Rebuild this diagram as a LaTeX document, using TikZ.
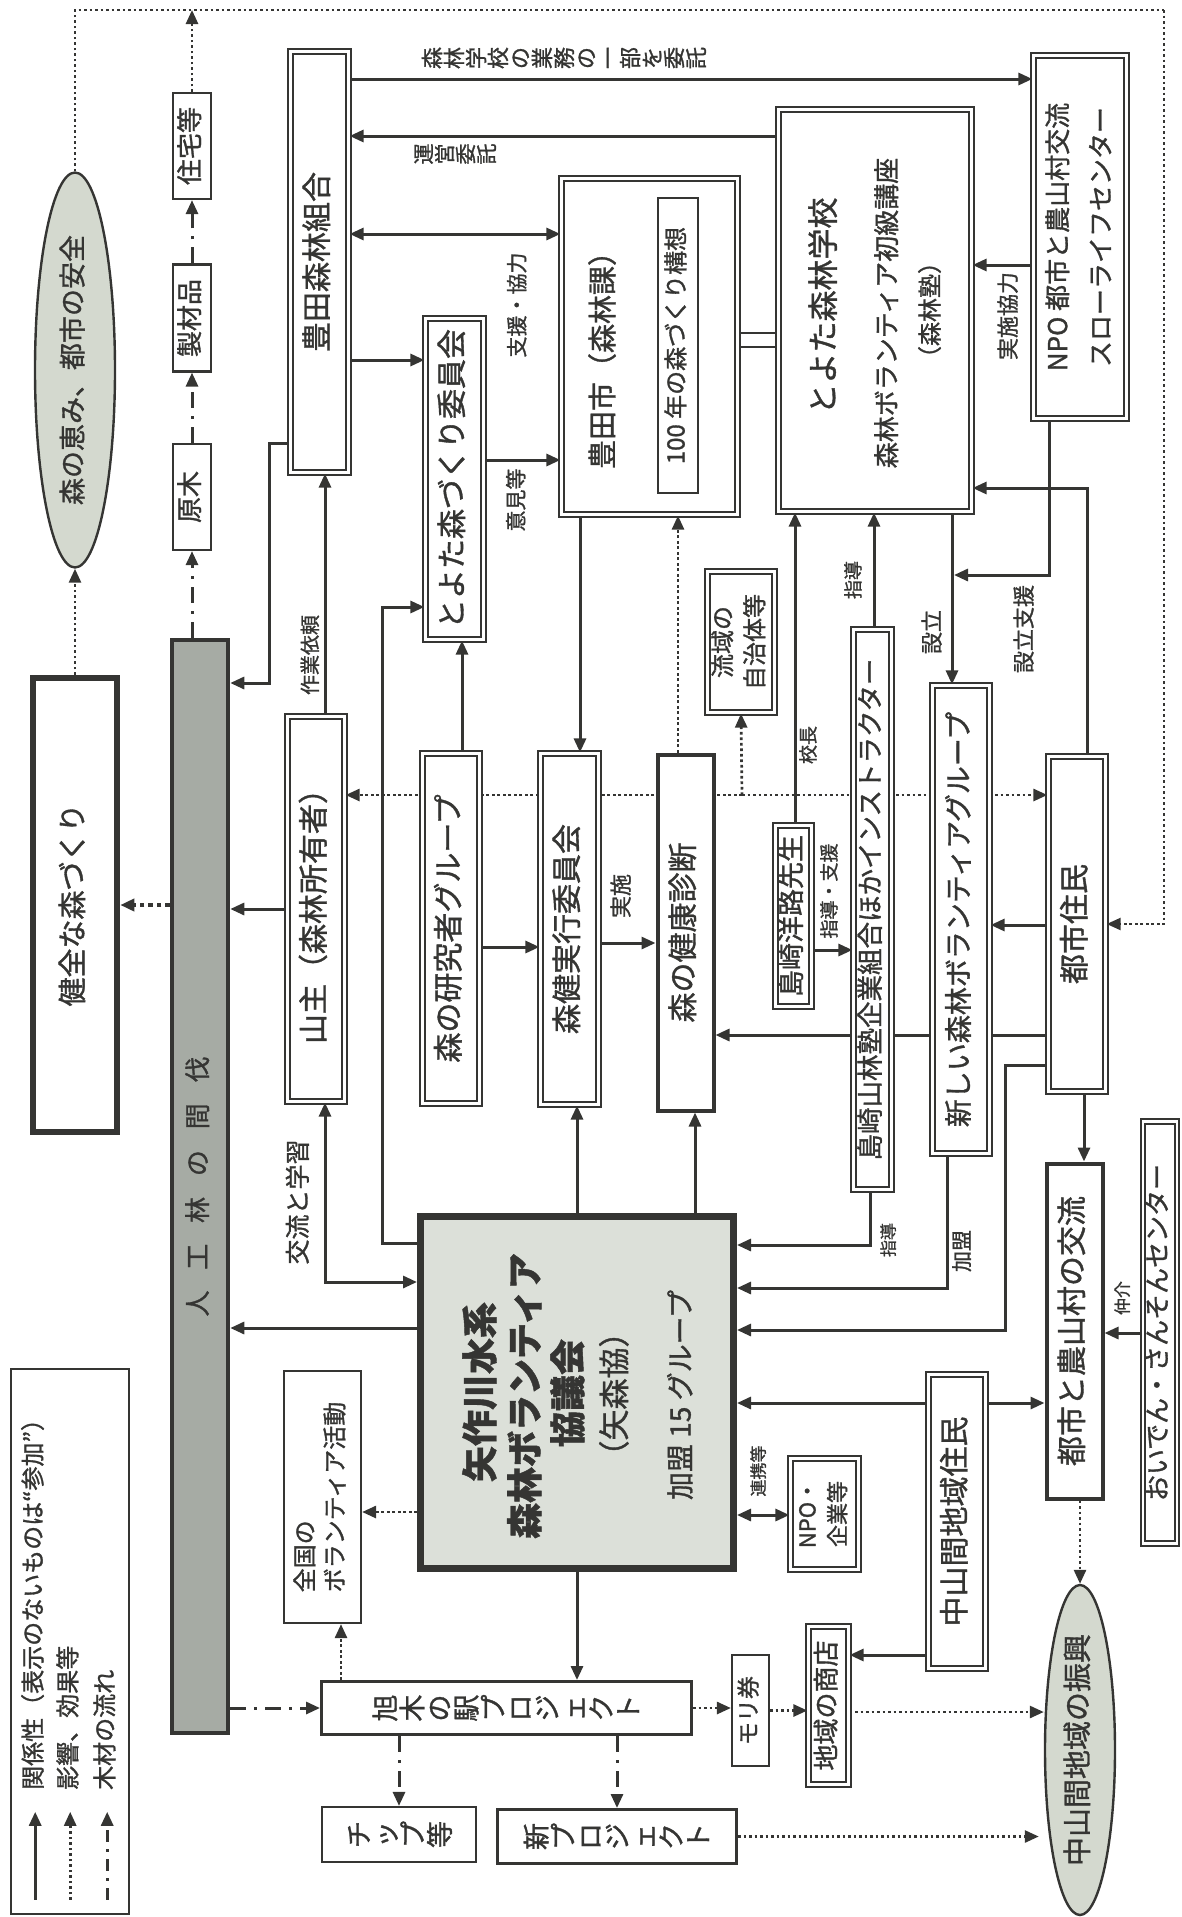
\documentclass[tikz,border=0pt]{standalone}
\usepackage{fontspec}
\setmainfont{Noto Sans CJK JP}[FakeBold=1.2]
\usepackage{graphicx}
\usetikzlibrary{arrows.meta,shapes.geometric,backgrounds}
\definecolor{ink}{HTML}{353533}
\definecolor{moss}{HTML}{D4D9CF}
\definecolor{bark}{HTML}{A6ABA4}
\definecolor{pale}{HTML}{DCE0D9}
\newcommand{\fs}[1]{\fontsize{#1}{#1}\selectfont}
\newcommand{\rt}[1]{\rotatebox{90}{\begin{tabular}{@{}c@{}}#1\end{tabular}}}
\newcommand{\rtl}[1]{\rotatebox{90}{\begin{tabular}{@{}l@{}}#1\end{tabular}}}
\makeatletter
\newcommand{\tate}[1]{\@tfor\tch:=#1\do{\rotatebox{90}{\rule[-0.12em]{0pt}{1em}\tch}}}
\makeatother
\tikzset{
  dbl/.style={draw=ink,line width=2.2pt,double=white,double distance=2.4pt,fill=white,inner sep=0pt,text=ink,font=\fs{30}},
  pbox/.style={draw=ink,line width=2.2pt,fill=white,inner sep=0pt,text=ink,font=\fs{26}},
  hbox/.style={draw=ink,line width=4pt,fill=white,inner sep=0pt,text=ink,font=\fs{30}},
  oval/.style={ellipse,draw=ink,line width=2.4pt,fill=moss,inner sep=0pt,text=ink},
  lbl/.style={inner sep=0pt,text=ink,font=\fs{20}},
  wh/.style 2 args={minimum width=#1,minimum height=#2},
  inner frame/.style={append after command={\pgfextra{\draw[ink,line width=1.4pt]
      ([shift={(6.5pt,-6.5pt)}]\tikzlastnode.north west) rectangle ([shift={(-6.5pt,6.5pt)}]\tikzlastnode.south east);}}},
  rel/.style={ink,line width=3pt,-{Triangle[length=14pt,width=12pt]}},
  relb/.style={ink,line width=3pt,{Triangle[length=14pt,width=12pt]}-{Triangle[length=14pt,width=12pt]}},
  eff/.style={ink,line width=2.7pt,dash pattern=on 2.7pt off 2.8pt,-{Triangle[length=14pt,width=12pt]}},
  wood/.style={ink,line width=3pt,dash pattern=on 16pt off 8pt on 3pt off 8pt,-{Triangle[length=14pt,width=12pt]}},
}

\begin{document}
\begin{tikzpicture}[x=1pt,y=-1pt]
  \useasboundingbox (0,0) rectangle (1182,1917);
  % --- Ausgang: Wald und Holz ---
  \node[oval,wh={80}{395},font=\fs{27}] (megumi) at (75,370) {\rt{森の恵み、都市の安全}};
  \node[pbox,line width=6.5pt,wh={84}{454},font=\fs{29},inner frame] (kenzen) at (75,905) {\rt{健全な森づくり}};
  \node[pbox,line width=4.5pt,fill=bark,wh={56}{1093},font=\fs{26}] (bar) at (200,1186.5)
    {\rt{人\hspace{0.8em}工\hspace{0.8em}林\hspace{0.8em}の\hspace{0.8em}間\hspace{0.8em}伐}};
  \node[pbox,wh={38}{106}] (jutaku) at (192,146) {\rt{住宅等}};
  \node[pbox,wh={38}{107}] (seizai) at (192,318) {\rt{製材品}};
  \node[pbox,wh={38}{106}] (genboku) at (192,497) {\rt{原木}};
  % --- Akteure ---
  \node[dbl,wh={58}{421}] (kumiai) at (319.5,262) {\rt{豊田森林組合}};
  \node[dbl,wh={57}{385}] (yamanushi) at (316,909) {\rt{山主（森林所有者）}};
  \node[dbl,wh={58}{321}] (iinkai) at (454.5,479) {\rt{とよた森づくり委員会}};
  \node[dbl,wh={57}{350}] (kenkyu) at (451,928.5) {\rt{森の研究者グループ}};
  \node[dbl,wh={58}{351}] (jikko) at (569.5,929) {\rt{森健実行委員会}};
  \node[hbox,wh={56}{356}] (shindan) at (685.5,932.5) {\rt{森の健康診断}};
  \node[dbl,wh={176}{336}] (toyotashi) at (649.5,346.5) {};
  \node[lbl,font=\fs{29}] (toyotashiT) at (605,353) {\rt{豊田市（森林課）}};
  \node[pbox,line width=1.6pt,wh={40}{295},font=\fs{24}] (kousou) at (678,345.5) {\rt{100 年の森づくり構想}};
  \node[dbl,wh={193}{402}] (gakko) at (875,310.5) {};
  \node[lbl,font=\fs{31}] (gakkoT) at (826,306) {\rt{とよた森林学校}};
  \node[lbl,font=\fs{26}] (kozaT) at (889,313) {\rt{森林ボランティア初級講座}};
  \node[lbl,font=\fs{24}] (jukuT) at (932,310) {\rt{（森林塾）}};
  \node[dbl,wh={93}{363},font=\fontsize{26}{43}\selectfont] (npo) at (1080,237) {\rt{NPO 都市と農山村交流\\スローライフセンター}};
  \node[dbl,wh={67}{141},font=\fontsize{24}{32}\selectfont] (jichitai) at (741,642) {\rt{流域の\\自治体等}};
  \node[dbl,wh={36}{181},font=\fs{27}] (sensei) at (793.5,916) {\rt{島崎洋路先生}};
  \node[dbl,wh={38}{560},font=\fs{26.5}] (juku) at (872.5,909.5) {\rt{島崎山林塾企業組合ほかインストラクター}};
  \node[dbl,wh={57}{468},font=\fs{28}] (shinrin) at (961,919.5) {\rt{新しい森林ボランティアグループ}};
  \node[dbl,wh={57}{335}] (shimin) at (1077,924) {\rt{都市住民}};
  \node[hbox,wh={56}{335}] (koryu) at (1074.5,1331) {\rt{都市と農山村の交流}};
  \node[dbl,wh={34}{422},font=\fs{26}] (oiden) at (1160,1332.5) {\rt{おいでん・さんそんセンター}};
  \node[dbl,wh={57}{294}] (chusankan) at (957,1521.5) {\rt{中山間地域住民}};
  \node[dbl,wh={40}{158},font=\fs{26}] (shoten) at (828.5,1705.5) {\rt{地域の商店}};
  \node[dbl,wh={68}{111},font=\fontsize{22}{30}\selectfont] (kigyo) at (824.5,1514) {\rt{NPO・\\企業等}};
  \node[pbox,wh={77}{252},font=\fontsize{24}{30}\selectfont] (zenkoku) at (322.5,1497) {\rtl{全国の\\ボランティア活動}};
  \node[oval,wh={70}{330},font=\fs{29}] (shinko) at (1080,1750) {\rt{中山間地域の振興}};
  % --- Verband ---
  \node[pbox,line width=7pt,fill=pale,wh={313}{352}] (yaku) at (577,1392.5) {};
  \node[lbl,font=\bfseries\fs{36}] (yakuT1) at (483,1392) {\rt{矢作川水系}};
  \node[lbl,font=\bfseries\fs{36}] (yakuT2) at (528,1396) {\rt{森林ボランティア}};
  \node[lbl,font=\bfseries\fs{36}] (yakuT3) at (571,1393) {\rt{協議会}};
  \node[lbl,font=\fs{31}] (yakuT4) at (617,1394) {\rt{（矢森協）}};
  \node[lbl,font=\fs{28}] (yakuT5) at (683,1395) {\rt{加盟 15 グループ}};
  % --- Projekte ---
  \node[pbox,line width=3pt,wh={370}{53},font=\fs{27}] (kinoeki) at (506.5,1708) {\tate{旭木の駅プロジェクト}};
  \node[pbox,wh={154}{55},font=\fs{27}] (chip) at (399,1834.5) {\tate{チップ等}};
  \node[pbox,line width=3pt,wh={239}{54},font=\fs{27}] (shinpro) at (617,1836.5) {\tate{新プロジェクト}};
  \node[pbox,wh={37}{111},font=\fs{23}] (moriken) at (750.5,1710.5) {\rt{モリ券}};
  % --- Beschriftungen ---
  \node[lbl,font=\fs{22}] (lItaku) at (564,58) {\tate{森林学校の業務の一部を委託}};
  \node[lbl,font=\fs{21}] (lUnei) at (455,154) {\tate{運営委託}};
  \node[lbl,font=\fs{21}] (lShien) at (519,305) {\rt{支援・協力}};
  \node[lbl,font=\fs{21}] (lIken) at (518,500) {\rt{意見等}};
  \node[lbl,font=\fs{20}] (lSagyo) at (312,655) {\rt{作業依頼}};
  \node[lbl,font=\fs{25}] (lKoryu) at (300,1202) {\rt{交流と学習}};
  \node[lbl,font=\fs{22}] (lJisshi) at (623,896) {\rt{実施}};
  \node[lbl,font=\fs{19}] (lKocho) at (810,745) {\rt{校長}};
  \node[lbl,font=\fs{19}] (lShido) at (855,580) {\rt{指導}};
  \node[lbl,font=\fs{22}] (lSetsu) at (934,632) {\rt{設立}};
  \node[lbl,font=\fs{22}] (lSetsuS) at (1026,629) {\rt{設立支援}};
  \node[lbl,font=\fs{22}] (lKyoryoku) at (1010,316) {\rt{実施協力}};
  \node[lbl,font=\fs{19}] (lShien2) at (831,891) {\rt{指導・支援}};
  \node[lbl,font=\fs{17}] (lShido2) at (890,1240) {\rt{指導}};
  \node[lbl,font=\fs{21}] (lKamei) at (964,1251) {\rt{加盟}};
  \node[lbl,font=\fs{17}] (lChukai) at (1124,1298) {\rt{仲介}};
  \node[lbl,font=\fs{17}] (lRenkei) at (760,1471) {\rt{連携等}};
  % --- Legende ---
  \node[pbox,line width=1.6pt,wh={118}{545}] (legend) at (70,1641.5) {};
  \node[lbl,font=\fs{24},anchor=south] (lg1) at (35,1790) {\rt{関係性（表示のないものは“参加”）}};
  \node[lbl,font=\fs{24},anchor=south] (lg2) at (70,1790) {\rt{影響、効果等}};
  \node[lbl,font=\fs{24},anchor=south] (lg3) at (107,1790) {\rt{木材の流れ}};
  \draw[rel] ([shift={(25,-15)}]legend.south west) -- ++(0,-88);
  \draw[eff] ([shift={(60,-15)}]legend.south west) -- ++(0,-88);
  \draw[wood,dash pattern=on 12pt off 7pt on 3pt off 7pt] ([shift={(97,-15)}]legend.south west) -- ++(0,-88);
  \begin{scope}[on background layer]
    % Holzfluss
    \draw[wood] (bar.north -| genboku) -- (genboku.south);
    \draw[wood] (genboku.north) -- (seizai.south);
    \draw[wood] (seizai.north) -- (jutaku.south);
    \draw[wood] (bar.east |- kinoeki) -- (kinoeki.west);
    \draw[wood] (kinoeki.south -| chip) -- (chip.north);
    \draw[wood] (kinoeki.south -| shinpro) -- (shinpro.north);
    % Wirkungen
    \coordinate (topL) at (75,10);
    \coordinate (topR) at (1164,10);
    \coordinate (hx) at (742,795);
    \draw[eff,-,line width=2.2pt] (megumi.north) -- (topL) -- (topR);
    \draw[eff,line width=2.2pt] (topR) |- (shimin.east);
    \draw[eff] (jutaku.north) -- (jutaku.north |- topL);
    \draw[eff] (kenzen.north) -- (megumi.south);
    \draw[eff,line width=4.5pt,dash pattern=on 4.5pt off 4pt] (bar.west |- kenzen) -- (kenzen.east);
    \draw[eff] (hx) -- (yamanushi.east |- hx);
    \draw[eff] (hx) -- (shimin.west |- hx);
    \draw[eff] (hx) -- (jichitai.south);
    \draw[eff] (kousou |- shindan.north) -- (kousou |- toyotashi.south);
    \draw[eff] (yaku.west |- 0,1512) -- (zenkoku.east |- 0,1512);
    \draw[eff] (kinoeki.north -| 341,0) -- (zenkoku.south -| 341,0);
    \draw[eff] (kinoeki.east) -- (moriken.west |- kinoeki.east);
    \draw[eff] (moriken.east) -- (shoten.west |- moriken.east);
    \draw[eff] (shoten.east |- 0,1712) -- (shinko.west |- 0,1712);
    \draw[eff,shorten >=5pt] (shinpro.east) -- (shinko.west |- shinpro.east);
    \draw[eff] (koryu.south -| shinko) -- (shinko.north);
    % Beziehungen
    \draw[rel] (kumiai.east |- 0,79) -- (npo.west |- 0,79);
    \draw[rel] (gakko.west |- 0,136) -- (kumiai.east |- 0,136);
    \draw[relb] (kumiai.east |- 0,234) -- (toyotashi.west |- 0,234);
    \draw[rel] (kumiai.east |- 0,360) -- (iinkai.west |- 0,360);
    \draw[rel] (iinkai.east |- 0,460) -- (toyotashi.west |- 0,460);
    \draw[rel] (kumiai.west |- 0,443) -- ++(-20,0) |- (bar.east |- 0,683);
    \draw[rel] (yamanushi.north -| 325,0) -- (kumiai.south -| 325,0);
    \draw[rel] (yamanushi.west) -- (bar.east |- yamanushi.west);
    \draw[relb] (yamanushi.south -| 325,0) |- (yaku.west |- 0,1282);
    \draw[rel] (yaku.west |- 0,1243) -| (382,607) -- (iinkai.west |- 0,607);
    \draw[rel] (yaku.west |- 0,1328) -- (bar.east |- 0,1328);
    \draw[rel] (kenkyu.north -| 462,0) -- (iinkai.south -| 462,0);
    \draw[rel] (kenkyu.east |- 0,947) -- (jikko.west |- 0,947);
    \draw[rel] (toyotashi.south -| 580,0) -- (jikko.north -| 580,0);
    \draw[rel] (jikko.east |- 0,943) -- (shindan.west |- 0,943);
    \draw[rel] (yaku.north -| 577,0) -- (jikko.south -| 577,0);
    \draw[rel] (yaku.north -| 695,0) -- (shindan.south -| 695,0);
    \draw[rel] (shimin.west |- 0,1035) -- (shindan.east |- 0,1035);
    \draw[rel] (shimin.north -| 1087,0) |- (gakko.east |- 0,488);
    \draw[rel] (npo.west |- 0,265) -- (gakko.east |- 0,265);
    \coordinate (setsu) at (954,575);
    \draw[rel] (npo.south -| 1049,0) |- (setsu);
    \draw[rel] (gakko.south -| 952,0) -- (shinrin.north -| 952,0);
    \draw[rel] (sensei.north -| 795,0) -- (gakko.south -| 795,0);
    \draw[rel] (juku.north -| 874,0) -- (gakko.south -| 874,0);
    \draw[rel] (sensei.east |- 0,950) -- (juku.west |- 0,950);
    \draw[rel] (juku.south -| 870,0) |- (yaku.east |- 0,1245);
    \draw[rel] (shinrin.south -| 947,0) |- (yaku.east |- 0,1288);
    \draw[rel] (shimin.west |- 0,1065) -| (1005,1330) -- (yaku.east |- 0,1330);
    \draw[rel] (shimin.west |- 0,925) -- (shinrin.east |- 0,925);
    \draw[rel] (shimin.south -| 1084,0) -- (koryu.north -| 1084,0);
    \draw[rel] (oiden.west |- 0,1333) -- (koryu.east |- 0,1333);
    \draw[rel] (chusankan.east |- 0,1403) -- (koryu.west |- 0,1403);
    \draw[rel] (chusankan.west |- 0,1403) -- (yaku.east |- 0,1403);
    \draw[rel] (chusankan.west |- 0,1655) -- (shoten.east |- 0,1655);
    \draw[relb] (yaku.east |- 0,1515) -- (kigyo.west |- 0,1515);
    \draw[rel] (yaku.south -| 577,0) -- (kinoeki.north -| 577,0);
    \draw[ink,line width=1.6pt] (toyotashi.east |- 0,333) -- (gakko.west |- 0,333);
    \draw[ink,line width=1.6pt] (toyotashi.east |- 0,347) -- (gakko.west |- 0,347);
  \end{scope}
\end{tikzpicture}
\end{document}
